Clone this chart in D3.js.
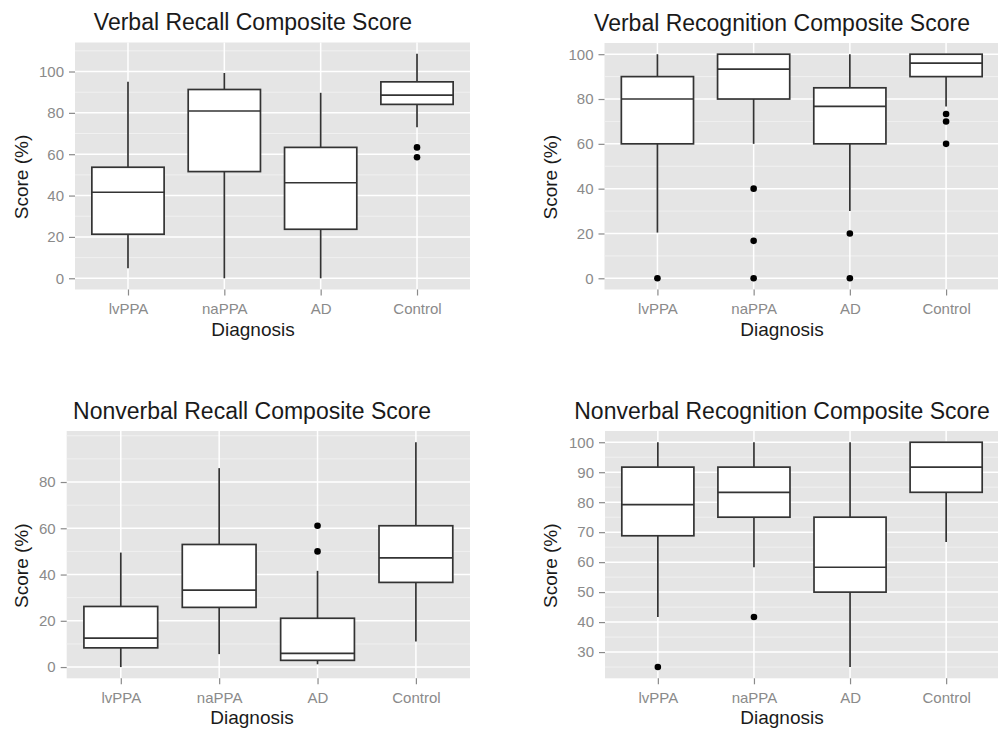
<!DOCTYPE html>
<html>
<head>
<meta charset="utf-8">
<script src="https://cdn.jsdelivr.net/npm/d3@7"></script>
<style>
    body { margin: 0; background: #fff; }
    svg text { font-family: "Liberation Sans", Arial, Helvetica, sans-serif; }
</style>
</head>
<body>
<svg id="chart" width="998" height="729"></svg>
<script>
const diagnoses = ["lvPPA", "naPPA", "AD", "Control"];

// box stats per diagnosis: [lower whisker, q1, median, q3, upper whisker]
const verbalRecallBoxes = [
    [4.8, 21.3, 41.6, 53.7, 95],
    [0, 51.6, 80.9, 91.3, 99.3],
    [0, 23.7, 46.2, 63.3, 89.7],
    [73, 84.1, 88.6, 95, 108.6]
];
const verbalRecallOutliers = [[], [], [], [63.3, 58.5]];
const verbalRecallTicks = [0, 20, 40, 60, 80, 100];

const verbalRecognitionBoxes = [
    [20.4, 60, 80, 90, 100],
    [60, 80, 93.3, 100, 100],
    [30, 60, 76.7, 85, 100],
    [76.7, 90, 96, 100, 100]
];
const verbalRecognitionOutliers = [[0], [40, 16.7, 0], [20, 0], [73.3, 70, 60]];
const verbalRecognitionTicks = [0, 20, 40, 60, 80, 100];

const nonverbalRecallBoxes = [
    [0, 8.3, 12.5, 26.2, 49.5],
    [5.6, 25.8, 33.3, 53, 86],
    [1.2, 2.9, 5.9, 21.1, 41.6],
    [11.1, 36.6, 47.2, 61.1, 97.2]
];
const nonverbalRecallOutliers = [[], [], [61.1, 50], []];
const nonverbalRecallTicks = [0, 20, 40, 60, 80];

const nonverbalRecognitionBoxes = [
    [41.7, 68.8, 79.2, 91.7, 100],
    [58.3, 75, 83.3, 91.7, 100],
    [25, 50, 58.3, 75, 100],
    [66.7, 83.3, 91.7, 100, 100]
];
const nonverbalRecognitionOutliers = [[25], [41.7], [], []];
const nonverbalRecognitionTicks = [30, 40, 50, 60, 70, 80, 90, 100];

const titles = [
    "Verbal Recall Composite Score",
    "Verbal Recognition Composite Score",
    "Nonverbal Recall Composite Score",
    "Nonverbal Recognition Composite Score"
];

let svg = d3.select("#chart");

// layout of the four plots
let panels = [
    {left: 75, right: 470, top: 42.5, bottom: 289.5, titleX: 253, ylabX: 28,
     boxes: verbalRecallBoxes, outliers: verbalRecallOutliers, ticks: verbalRecallTicks, title: titles[0]},
    {left: 604.5, right: 999, top: 43, bottom: 289.5, titleX: 782, ylabX: 557,
     boxes: verbalRecognitionBoxes, outliers: verbalRecognitionOutliers, ticks: verbalRecognitionTicks, title: titles[1]},
    {left: 66.7, right: 470, top: 431, bottom: 678.3, titleX: 252, ylabX: 28,
     boxes: nonverbalRecallBoxes, outliers: nonverbalRecallOutliers, ticks: nonverbalRecallTicks, title: titles[2]},
    {left: 605, right: 999, top: 431, bottom: 678.3, titleX: 782, ylabX: 557,
     boxes: nonverbalRecognitionBoxes, outliers: nonverbalRecognitionOutliers, ticks: nonverbalRecognitionTicks, title: titles[3]}
];

panels.forEach(drawPanel);

function drawPanel(p) {
    let g = svg.append("g");

    let x = d3.scalePoint()
        .domain(diagnoses)
        .range([p.left, p.right])
        .padding(0.55);

    // y domain = data range plus 5% each side, like ggplot
    let [lo, hi] = d3.extent(p.boxes.flat().concat(p.outliers.flat()));
    let pad = (hi - lo) * 0.05;
    let y = d3.scaleLinear()
        .domain([lo - pad, hi + pad])
        .range([p.bottom, p.top]);

    g.append("rect")
        .attr("x", p.left)
        .attr("y", p.top)
        .attr("width", p.right - p.left)
        .attr("height", p.bottom - p.top)
        .attr("fill", "#e5e5e5");

    // minor grid lines halfway between breaks
    let step = p.ticks[1] - p.ticks[0];
    let minor = d3.range(p.ticks[0] - step, p.ticks[p.ticks.length - 1] + step + 0.01, step / 2)
        .filter(v => v > y.domain()[0] && v < y.domain()[1] && !p.ticks.includes(v));

    g.append("g").selectAll("line")
        .data(minor).enter()
        .append("line")
        .attr("x1", p.left).attr("x2", p.right)
        .attr("y1", d => y(d)).attr("y2", d => y(d))
        .attr("stroke", "#f2f2f2")
        .attr("stroke-width", 0.9);

    g.append("g").selectAll("line")
        .data(p.ticks).enter()
        .append("line")
        .attr("x1", p.left).attr("x2", p.right)
        .attr("y1", d => y(d)).attr("y2", d => y(d))
        .attr("stroke", "#fff")
        .attr("stroke-width", 1.5);

    g.append("g").selectAll("line")
        .data(diagnoses).enter()
        .append("line")
        .attr("x1", d => x(d)).attr("x2", d => x(d))
        .attr("y1", p.top).attr("y2", p.bottom)
        .attr("stroke", "#fff")
        .attr("stroke-width", 1.5);

    // axes
    let yAxis = g.append("g")
        .attr("transform", `translate(${p.left},0)`)
        .call(d3.axisLeft(y).tickValues(p.ticks).tickSize(6).tickPadding(5));
    let xAxis = g.append("g")
        .attr("transform", `translate(0,${p.bottom})`)
        .call(d3.axisBottom(x).tickSize(6).tickPadding(8));

    [yAxis, xAxis].forEach(a => {
        a.select(".domain").remove();
        a.attr("font-size", 15).attr("font-family", null);
        a.selectAll("line").attr("stroke", "#8a8a8a").attr("stroke-width", 1.2);
        a.selectAll("text").attr("fill", "#8a8a8a");
    });

    // boxes
    let bw = x.step() * 0.75;
    let box = g.append("g").selectAll("g")
        .data(p.boxes).enter()
        .append("g")
        .attr("stroke", "#333")
        .attr("stroke-width", 1.7);

    box.append("line")
        .attr("x1", (d, i) => x(diagnoses[i])).attr("x2", (d, i) => x(diagnoses[i]))
        .attr("y1", d => y(d[4])).attr("y2", d => y(d[3]));
    box.append("line")
        .attr("x1", (d, i) => x(diagnoses[i])).attr("x2", (d, i) => x(diagnoses[i]))
        .attr("y1", d => y(d[1])).attr("y2", d => y(d[0]));
    box.append("rect")
        .attr("x", (d, i) => x(diagnoses[i]) - bw / 2)
        .attr("y", d => y(d[3]))
        .attr("width", bw)
        .attr("height", d => y(d[1]) - y(d[3]))
        .attr("fill", "#fff");
    box.append("line")
        .attr("x1", (d, i) => x(diagnoses[i]) - bw / 2)
        .attr("x2", (d, i) => x(diagnoses[i]) + bw / 2)
        .attr("y1", d => y(d[2])).attr("y2", d => y(d[2]));

    // outlier points
    let pts = p.outliers.flatMap((vals, i) => vals.map(v => [diagnoses[i], v]));
    g.append("g").selectAll("circle")
        .data(pts).enter()
        .append("circle")
        .attr("cx", d => x(d[0]))
        .attr("cy", d => y(d[1]))
        .attr("r", 3.3)
        .attr("fill", "#000");

    // titles
    g.append("text")
        .attr("x", p.titleX)
        .attr("y", p.top - 12.5)
        .attr("text-anchor", "middle")
        .attr("font-size", 23)
        .attr("fill", "#1a1a1a")
        .text(p.title);

    g.append("text")
        .attr("x", p.titleX)
        .attr("y", p.bottom + 46)
        .attr("text-anchor", "middle")
        .attr("font-size", 19)
        .attr("fill", "#1a1a1a")
        .text("Diagnosis");

    g.append("text")
        .attr("transform", `translate(${p.ylabX},${(p.top + p.bottom) / 2 + 11}) rotate(-90)`)
        .attr("text-anchor", "middle")
        .attr("font-size", 19)
        .attr("fill", "#1a1a1a")
        .text("Score (%)");
}
</script>
</body>
</html>
